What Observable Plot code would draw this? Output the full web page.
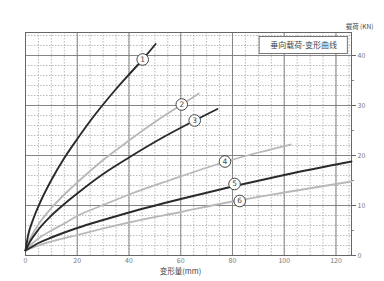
<!DOCTYPE html>
<html>
<head>
<meta charset="utf-8">
<script src="https://cdn.jsdelivr.net/npm/d3@7"></script>
<script src="https://cdn.jsdelivr.net/npm/@observablehq/plot@0.6"></script>
<style>
  html, body { margin: 0; padding: 0; background: #fff; }
</style>
</head>
<body>
<div id="chart"></div>
<script>
// Curves: [deformation (mm), load (KN)]
const curve1 = [[0,1],[1,4],[3,7.3],[6,11],[10,15.1],[15,19.5],[20,23.3],[25,26.9],[30,30.2],[35,33.3],[40,36.2],[45.1,39.1],[50.3,42.3]];
const curve2 = [[0,1],[2,3.6],[5,6.2],[10,9.5],[15,12.2],[20,14.6],[30,19.1],[40,23],[50,26.7],[60.4,30.2],[67,32.4]];
const curve3 = [[0,1],[2,3.0],[5,5.2],[10,8.0],[15,10.3],[20,12.4],[30,16.3],[40,19.6],[52,23.3],[65.4,27],[74.2,29.3]];
const curve4 = [[0,1],[2,2.1],[5,3.4],[10,5.0],[15,6.4],[20,7.9],[30,10.1],[40.6,12.3],[56,15.1],[77,18.7],[90,20.6],[102.5,22.2]];
const curve5 = [[0,1],[2,1.6],[5,2.5],[10,3.6],[20,5.5],[30,7.1],[40,8.6],[60,11.3],[80,13.8],[100,16.1],[126,18.8]];
const curve6 = [[0,1],[2,1.4],[5,2.0],[10,2.8],[20,4.1],[30,5.4],[40,6.6],[60,8.7],[80,10.8],[100,12.6],[126,14.8]];

const curveNames = ["1","2","3","4","5","6"];
const curveShades = ["dark","light","dark","light","dark","light"];
const labelX = [45.3, 60.4, 65.4, 77.1, 80.8, 82.8];
const labelY = [39.2, 30.2, 27.0, 18.8, 14.3, 10.9];

const xTicks = [0, 20, 40, 60, 80, 100, 120];
const yTicks = [0, 10, 20, 30, 40];
const xTitle = "变形量(mm)";
const yTitle = "载荷 (KN)";
const boxTitle = "垂向载荷-变形曲线";

const curves = [curve1, curve2, curve3, curve4, curve5, curve6];
const lineRows = curves.flatMap((c, i) => c.map(([x, y]) => ({x, y, id: curveNames[i], shade: curveShades[i]})));
const labelRows = curveNames.map((n, i) => ({x: labelX[i], y: labelY[i], id: n}));

const shadeColor = {dark: "#2a2a2a", light: "#b8b8b8"};

const chart = Plot.plot({
  width: 384,
  height: 281,
  marginLeft: 25,
  marginRight: 33,
  marginTop: 32,
  marginBottom: 26,
  x: {domain: [0, 126]},
  y: {domain: [0, 44.6]},
  style: {fontFamily: "'Noto Sans CJK SC', 'Noto Sans', sans-serif", fontSize: "7px", color: "#777", background: "#fff"},
  marks: [
    Plot.gridX(d3.range(0, 126, 5), {stroke: "#a0a0a0", strokeOpacity: 0.9, strokeDasharray: "1.5,1.5", strokeWidth: 0.8}),
    Plot.gridY(d3.range(0, 45, 2), {stroke: "#a0a0a0", strokeOpacity: 0.9, strokeDasharray: "1.5,1.5", strokeWidth: 0.8}),
    Plot.gridX(xTicks, {stroke: "#7a7a7a", strokeOpacity: 1, strokeWidth: 0.9}),
    Plot.gridY(yTicks, {stroke: "#7a7a7a", strokeOpacity: 1, strokeWidth: 0.9}),
    Plot.frame({stroke: "#666", strokeWidth: 1}),
    Plot.axisX({ticks: xTicks, tickSize: 0, tickPadding: 3, label: null}),
    Plot.axisY({anchor: "right", ticks: yTicks, tickSize: 4, tickPadding: 2, label: null, stroke: "#666"}),
    Plot.axisY({anchor: "right", ticks: [5, 15, 25, 35], tickSize: 2, text: null, label: null, stroke: "#888"}),
    Plot.line(lineRows.filter(d => d.shade === "light"), {x: "x", y: "y", z: "id", stroke: shadeColor.light, strokeWidth: 1.8, curve: "monotone-x"}),
    Plot.line(lineRows.filter(d => d.shade === "dark"), {x: "x", y: "y", z: "id", stroke: shadeColor.dark, strokeWidth: 1.9, curve: "monotone-x"}),
    Plot.dot(labelRows, {x: "x", y: "y", r: 5.8, fill: "#fff", stroke: "#444", strokeWidth: 1}),
    Plot.text(labelRows, {x: "x", y: "y", text: "id", fill: "#444", fontSize: 7.5, fontFamily: "'DejaVu Sans', sans-serif"}),
    Plot.text([xTitle], {frameAnchor: "bottom", dx: -8, dy: 18.5, fill: "#444", fontSize: 7.5}),
    Plot.text([yTitle], {frameAnchor: "top-right", dx: 8, dy: -8, fill: "#444", fontSize: 6.5, textAnchor: "middle"}),
    // legend box
    Plot.rect([{x1: 90.5, x2: 124.6, y1: 40.3, y2: 43.7}], {x1: "x1", x2: "x2", y1: "y1", y2: "y2", fill: "#fff", stroke: "#777", strokeWidth: 1}),
    Plot.text([boxTitle], {x: [107.5], y: [42], fill: "#444", fontSize: 8})
  ]
});
document.getElementById("chart").appendChild(chart);
</script>
</body>
</html>
